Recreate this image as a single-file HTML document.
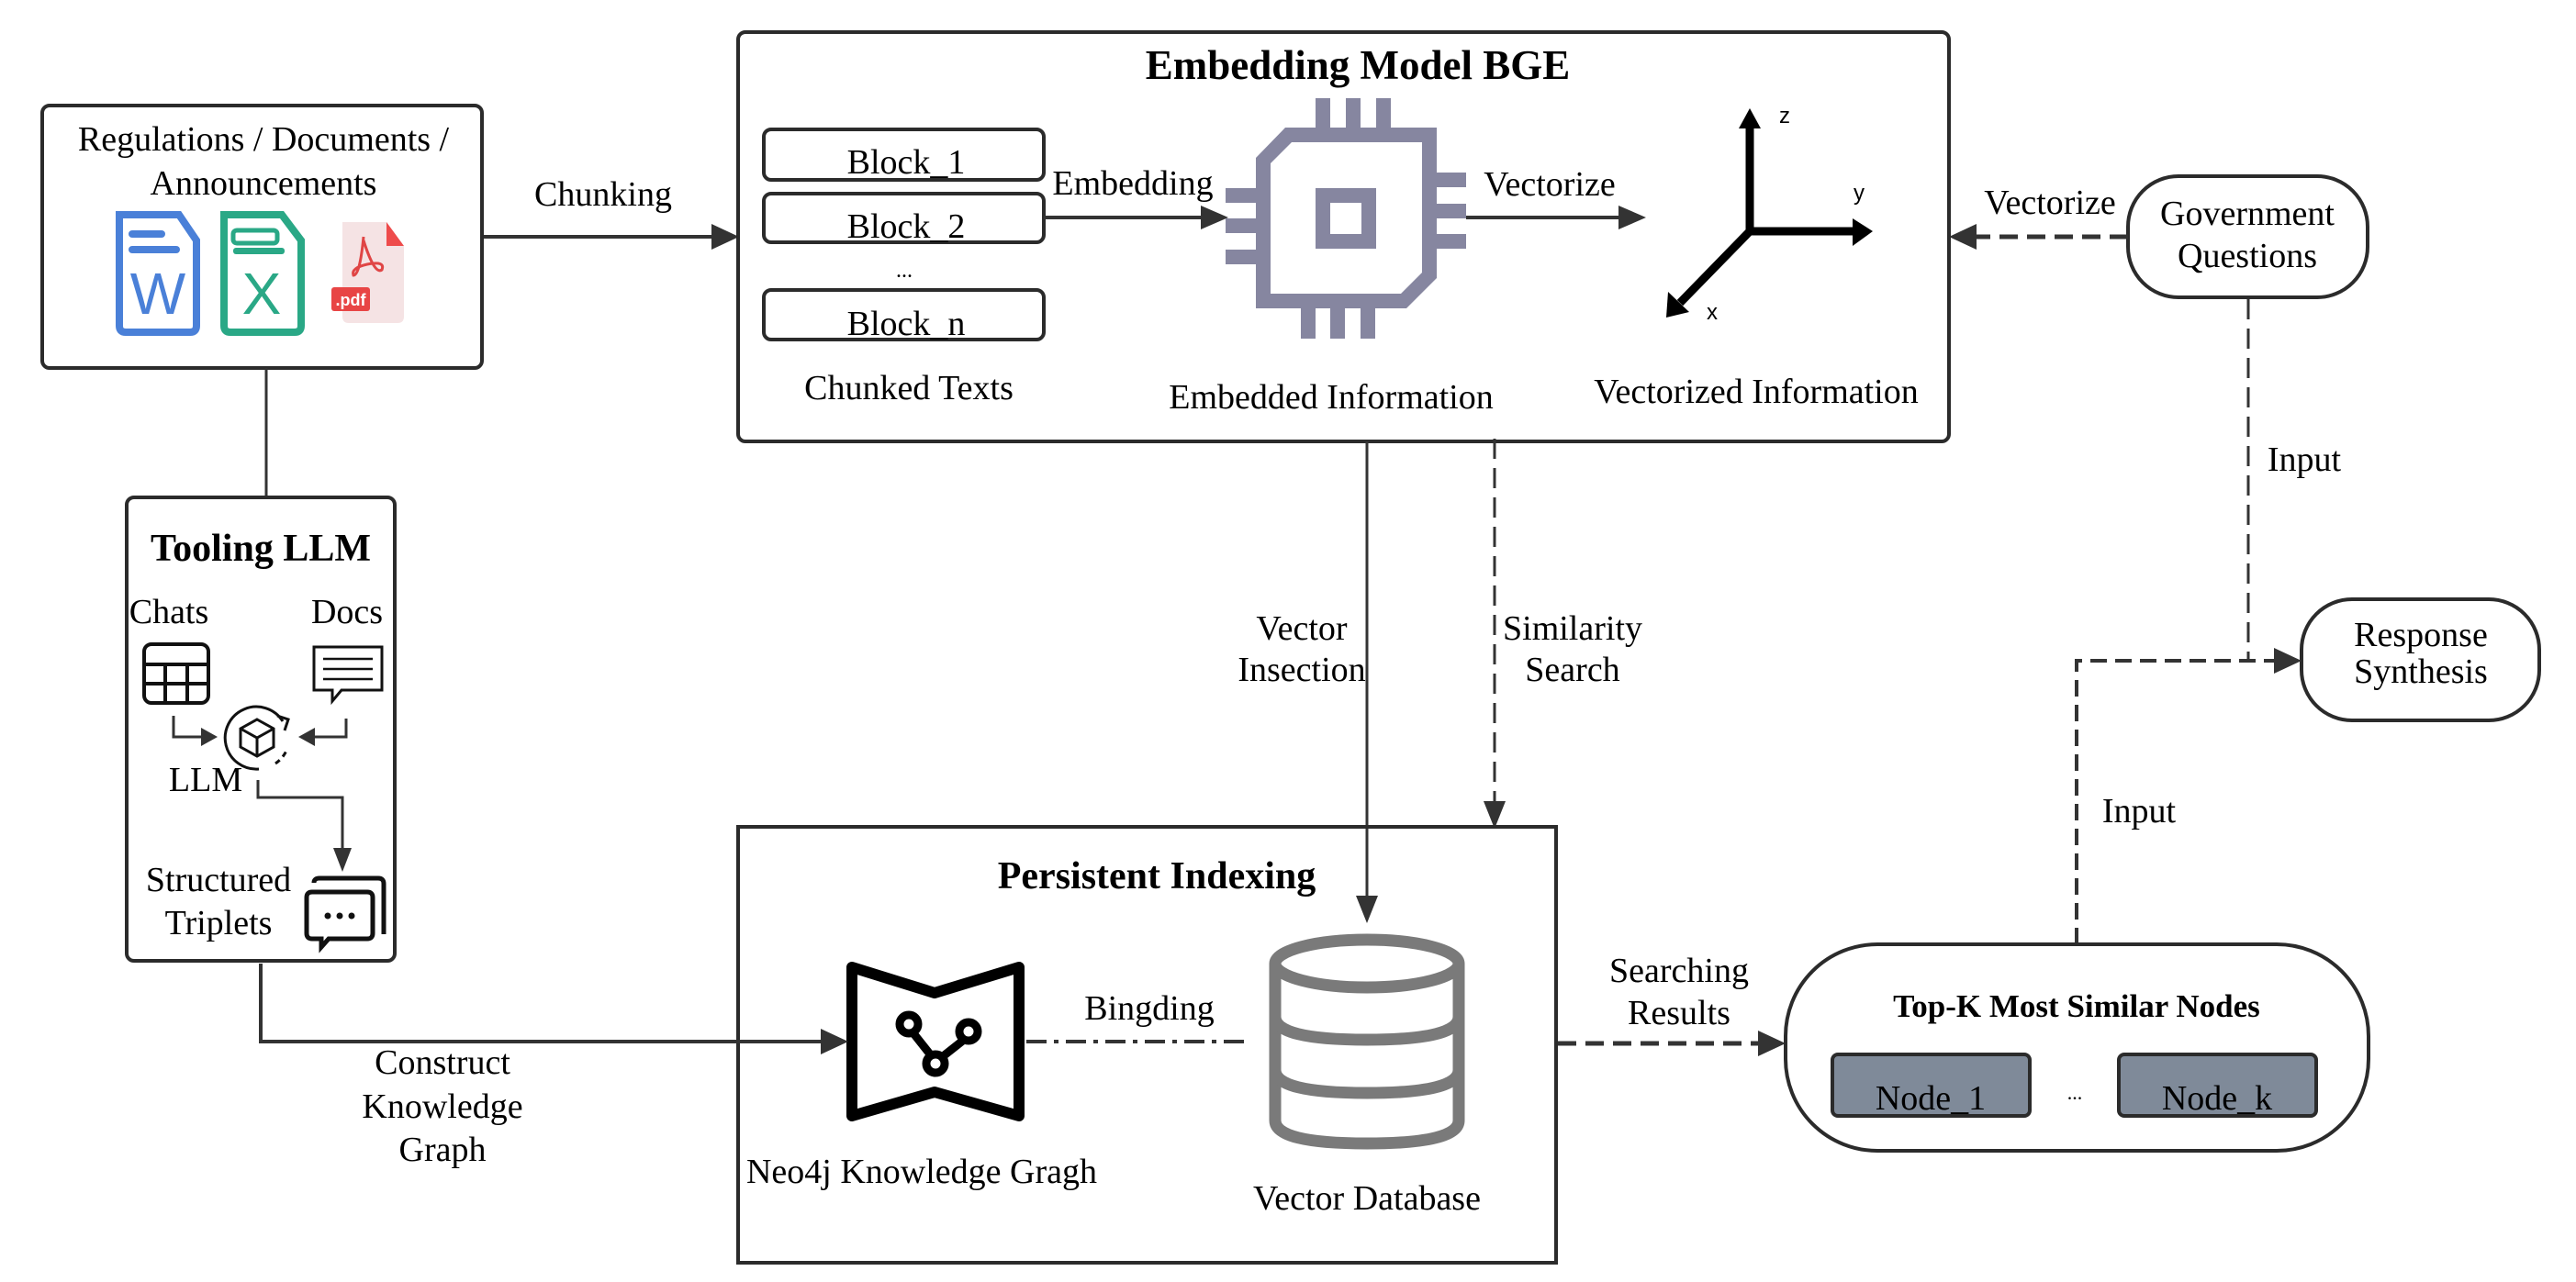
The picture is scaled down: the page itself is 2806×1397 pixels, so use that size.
<!DOCTYPE html>
<html><head><meta charset="utf-8"><style>
html,body{margin:0;padding:0;background:#fff;}
svg{display:block;}
text{font-family:"Liberation Serif","Times New Roman",serif;fill:#000;}
text.sans{font-family:"Liberation Sans",sans-serif;}
</style></head><body>
<svg width="2806" height="1397" viewBox="0 0 2806 1397" xmlns="http://www.w3.org/2000/svg">
<g font-size="38" text-anchor="middle">
<!-- Docs box -->
<rect x="46" y="115" width="479" height="286" rx="8" fill="#fff" stroke="#2b2b2b" stroke-width="4"/>
<text x="287" y="164">Regulations / Documents /</text>
<text x="287" y="212">Announcements</text>
<!-- W icon -->
<path d="M130 234 H195 L214 262 V355 Q214 362 207 362 H137 Q130 362 130 355 Z" fill="none" stroke="#4a80d8" stroke-width="8"/>
<rect x="140" y="251" width="40" height="8" rx="4" fill="#4a80d8"/>
<rect x="140" y="268" width="56" height="8" rx="4" fill="#4a80d8"/>
<text class="sans" x="172" y="342" font-size="64" style="fill:#4a80d8">W</text>
<!-- X icon -->
<path d="M244 234 H307 L328 262 V355 Q328 362 321 362 H251 Q244 362 244 355 Z" fill="none" stroke="#2aa886" stroke-width="8"/>
<rect x="254" y="251" width="48" height="14" rx="4" fill="none" stroke="#2aa886" stroke-width="5"/>
<rect x="254" y="270" width="56" height="7" rx="3" fill="#2aa886"/>
<text class="sans" x="285" y="342" font-size="64" style="fill:#2aa886">X</text>
<!-- PDF icon -->
<path d="M373 242 H421 L440 268 V345 Q440 352 433 352 H380 Q373 352 373 345 Z" fill="#f5e3e4"/>
<path d="M421 242 L440 268 H421 Z" fill="#ee4b4b"/>
<path d="M396 258 Q392 300 385 300 Q382 292 400 288 Q420 284 416 294 Q408 300 396 262" fill="none" stroke="#e04545" stroke-width="3"/>
<rect x="361" y="313" width="42" height="26" rx="3" fill="#e84545"/>
<text class="sans" x="382" y="333" font-size="18" style="fill:#fff" font-weight="bold">.pdf</text>
<!-- chunking arrow -->
<text x="657" y="224">Chunking</text>
<line x1="527" y1="258" x2="780" y2="258" stroke="#333" stroke-width="4"/>
<path d="M805 258 L775 244 L775 272 Z" fill="#333"/>
<!-- Embedding box -->
<rect x="804" y="35" width="1319" height="446" rx="8" fill="none" stroke="#2b2b2b" stroke-width="4"/>
<text x="1479" y="86" font-weight="bold" font-size="45">Embedding Model BGE</text>
<rect x="832" y="141" width="305" height="55" rx="8" fill="#fff" stroke="#2b2b2b" stroke-width="4"/>
<text x="987" y="189">Block_1</text>
<rect x="832" y="211" width="305" height="53" rx="8" fill="#fff" stroke="#2b2b2b" stroke-width="4"/>
<text x="987" y="259">Block_2</text>
<text x="985" y="302" font-size="24">...</text>
<rect x="832" y="316" width="305" height="54" rx="8" fill="#fff" stroke="#2b2b2b" stroke-width="4"/>
<text x="987" y="365">Block_n</text>
<text x="990" y="435">Chunked Texts</text>
<text x="1234" y="212">Embedding</text>
<line x1="1137" y1="237" x2="1312" y2="237" stroke="#333" stroke-width="4"/>
<path d="M1338 237 L1308 224 L1308 250 Z" fill="#333"/>
<!-- chip -->
<g fill="#8686a0">
<path d="M1400 139 H1565 V303 L1532 336 H1368 V172 Z M1384 178 V320 H1526 L1549 297 V155 H1407 Z" fill-rule="evenodd"/>
<rect x="1433" y="107" width="16" height="33"/><rect x="1466" y="107" width="16" height="33"/><rect x="1499" y="107" width="16" height="33"/>
<rect x="1417" y="335" width="16" height="34"/><rect x="1449" y="335" width="16" height="34"/><rect x="1482" y="335" width="16" height="34"/>
<rect x="1335" y="205" width="34" height="16"/><rect x="1335" y="238" width="34" height="16"/><rect x="1335" y="272" width="34" height="16"/>
<rect x="1564" y="188" width="33" height="16"/><rect x="1564" y="222" width="33" height="16"/><rect x="1564" y="255" width="33" height="16"/>
<path d="M1433 205 H1499 V271 H1433 Z M1449 221 V255 H1483 V221 Z" fill-rule="evenodd"/>
</g>
<text x="1450" y="445">Embedded Information</text>
<text x="1688" y="213">Vectorize</text>
<line x1="1597" y1="237" x2="1770" y2="237" stroke="#333" stroke-width="4"/>
<path d="M1793 237 L1763 224 L1763 250 Z" fill="#333"/>
<!-- axes -->
<g stroke="#000" stroke-width="9" fill="none">
<line x1="1906" y1="252" x2="1906" y2="140"/>
<line x1="1906" y1="252" x2="2020" y2="252"/>
<line x1="1906" y1="252" x2="1830" y2="330"/>
</g>
<path d="M1906 118 L1894 140 L1918 140 Z" fill="#000"/>
<path d="M2040 252 L2018 238 L2018 268 Z" fill="#000"/>
<path d="M1815 346 L1817 318 L1840 340 Z" fill="#000"/>
<text class="sans" x="1944" y="134" font-size="24">z</text>
<text class="sans" x="2025" y="218" font-size="24">y</text>
<text class="sans" x="1865" y="348" font-size="24">x</text>
<text x="1913" y="439">Vectorized Information</text>
<!-- Government -->
<rect x="2318" y="192" width="261" height="132" rx="55" fill="#fff" stroke="#2b2b2b" stroke-width="4"/>
<text x="2448" y="245">Government</text>
<text x="2448" y="291">Questions</text>
<text x="2233" y="233">Vectorize</text>
<line x1="2318" y1="258" x2="2150" y2="258" stroke="#333" stroke-width="5" stroke-dasharray="20,10"/>
<path d="M2123 258 L2153 244 L2153 272 Z" fill="#333"/>
<line x1="2449" y1="326" x2="2449" y2="718" stroke="#333" stroke-width="3" stroke-dasharray="22,10"/>
<text x="2510" y="513">Input</text>
<!-- Response -->
<rect x="2507" y="653" width="259" height="132" rx="55" fill="#fff" stroke="#2b2b2b" stroke-width="4"/>
<text x="2637" y="704">Response</text>
<text x="2637" y="744">Synthesis</text>
<polyline points="2262,1029 2262,720 2480,720" fill="none" stroke="#333" stroke-width="4" stroke-dasharray="18,9"/>
<path d="M2507 720 L2477 706 L2477 734 Z" fill="#333"/>
<text x="2330" y="896">Input</text>
<!-- vertical connectors -->
<line x1="1489" y1="481" x2="1489" y2="980" stroke="#333" stroke-width="3"/>
<path d="M1489 1006 L1477 976 L1501 976 Z" fill="#333"/>
<line x1="1628" y1="478" x2="1628" y2="875" stroke="#333" stroke-width="3" stroke-dasharray="22,10"/>
<path d="M1628 903 L1616 873 L1640 873 Z" fill="#333"/>
<text x="1418" y="697">Vector</text>
<text x="1418" y="742">Insection</text>
<text x="1713" y="697">Similarity</text>
<text x="1713" y="742">Search</text>
<!-- Persistent -->
<rect x="804" y="901" width="891" height="475" fill="none" stroke="#2b2b2b" stroke-width="4"/>
<text x="1260" y="968" font-weight="bold" font-size="42">Persistent Indexing</text>
<!-- neo4j icon -->
<path d="M928 1054 L1018 1082 L1110 1054 V1216 L1018 1190 L928 1216 Z" fill="none" stroke="#000" stroke-width="12" stroke-linejoin="round"/>
<g fill="none" stroke="#000" stroke-width="9">
<circle cx="990" cy="1116" r="10"/><circle cx="1055" cy="1124" r="10"/><circle cx="1019" cy="1159" r="10"/>
<line x1="995" y1="1126" x2="1014" y2="1150"/><line x1="1050" y1="1133" x2="1026" y2="1152"/>
</g>
<text x="1004" y="1289">Neo4j Knowledge Gragh</text>
<line x1="1118" y1="1135" x2="1358" y2="1135" stroke="#333" stroke-width="4" stroke-dasharray="22,8,5,8"/>
<text x="1252" y="1111">Bingding</text>
<!-- database -->
<g fill="none" stroke="#7a7a7a" stroke-width="13">
<ellipse cx="1489" cy="1050" rx="100" ry="26"/>
<path d="M1389 1050 V1221 Q1389 1246 1489 1246 Q1589 1246 1589 1221 V1050"/>
<path d="M1389 1108 Q1389 1133 1489 1133 Q1589 1133 1589 1108"/>
<path d="M1389 1166 Q1389 1191 1489 1191 Q1589 1191 1589 1166"/>
</g>
<text x="1489" y="1318">Vector Database</text>
<!-- searching results -->
<line x1="1697" y1="1137" x2="1918" y2="1137" stroke="#333" stroke-width="5" stroke-dasharray="20,10"/>
<path d="M1945 1137 L1915 1123 L1915 1151 Z" fill="#333"/>
<text x="1829" y="1070">Searching</text>
<text x="1829" y="1116">Results</text>
<!-- Top-K -->
<rect x="1945" y="1029" width="635" height="225" rx="100" fill="#fff" stroke="#2b2b2b" stroke-width="4"/>
<text x="2262" y="1108" font-weight="bold" font-size="35">Top-K Most Similar Nodes</text>
<rect x="1996" y="1149" width="215" height="67" rx="6" fill="#7f8a99" stroke="#2b2b2b" stroke-width="4"/>
<text x="2103" y="1209">Node_1</text>
<rect x="2308" y="1149" width="215" height="67" rx="6" fill="#7f8a99" stroke="#2b2b2b" stroke-width="4"/>
<text x="2415" y="1209">Node_k</text>
<text x="2260" y="1198" font-size="22">...</text>
<!-- Tooling LLM -->
<line x1="290" y1="401" x2="290" y2="542" stroke="#333" stroke-width="3"/>
<rect x="138" y="542" width="292" height="505" rx="8" fill="#fff" stroke="#2b2b2b" stroke-width="4"/>
<text x="284" y="611" font-weight="bold" font-size="42">Tooling LLM</text>
<text x="184" y="679">Chats</text>
<text x="378" y="679">Docs</text>
<g fill="none" stroke="#111" stroke-width="4">
<rect x="157" y="702" width="70" height="64" rx="8"/>
<line x1="157" y1="724" x2="227" y2="724"/><line x1="157" y1="745" x2="227" y2="745"/>
<line x1="180" y1="724" x2="180" y2="766"/><line x1="204" y1="724" x2="204" y2="766"/>
<path d="M342 705 H416 V752 H372 L362 764 V752 H342 Z" stroke-width="3"/>
<line x1="352" y1="718" x2="406" y2="718" stroke-width="2.5"/><line x1="352" y1="729" x2="406" y2="729" stroke-width="2.5"/><line x1="352" y1="740" x2="406" y2="740" stroke-width="2.5"/>
<path d="M308 786 A34 34 0 1 0 282 838" stroke-width="3"/>
<path d="M302 780 L314 784 L310 796" stroke-width="3"/>
<path d="M300 832 A34 34 0 0 0 312 818" stroke-width="3" stroke-dasharray="6,5"/>
<path d="M280 784 L298 794 V814 L280 824 L262 814 V794 Z M262 794 L280 804 L298 794 M280 804 V824" stroke-width="3"/>
</g>
<path d="M189 780 V803 H222" fill="none" stroke="#333" stroke-width="3"/>
<path d="M237 803 L219 793 L219 813 Z" fill="#333"/>
<path d="M377 783 V803 H342" fill="none" stroke="#333" stroke-width="3"/>
<path d="M325 803 L343 793 L343 813 Z" fill="#333"/>
<text x="224" y="862">LLM</text>
<polyline points="281,850 281,869 373,869 373,925" fill="none" stroke="#333" stroke-width="3"/>
<path d="M373 950 L363 924 L383 924 Z" fill="#333"/>
<text x="238" y="971">Structured</text>
<text x="238" y="1018">Triplets</text>
<g fill="none" stroke="#111" stroke-width="5">
<path d="M342 962 Q342 957 348 957 H412 Q418 957 418 963 V1018"/>
<path d="M334 978 Q334 972 340 972 H400 Q406 972 406 978 V1017 Q406 1023 400 1023 H358 L350 1032 V1023 H340 Q334 1023 334 1017 Z"/>
</g>
<circle cx="357" cy="998" r="3.5" fill="#111"/><circle cx="370" cy="998" r="3.5" fill="#111"/><circle cx="383" cy="998" r="3.5" fill="#111"/>
<!-- construct KG arrow -->
<polyline points="284,1050 284,1135 898,1135" fill="none" stroke="#333" stroke-width="4"/>
<path d="M924 1135 L894 1121 L894 1149 Z" fill="#333"/>
<text x="482" y="1170">Construct</text>
<text x="482" y="1218">Knowledge</text>
<text x="482" y="1265">Graph</text>
</g>
</svg>
</body></html>
